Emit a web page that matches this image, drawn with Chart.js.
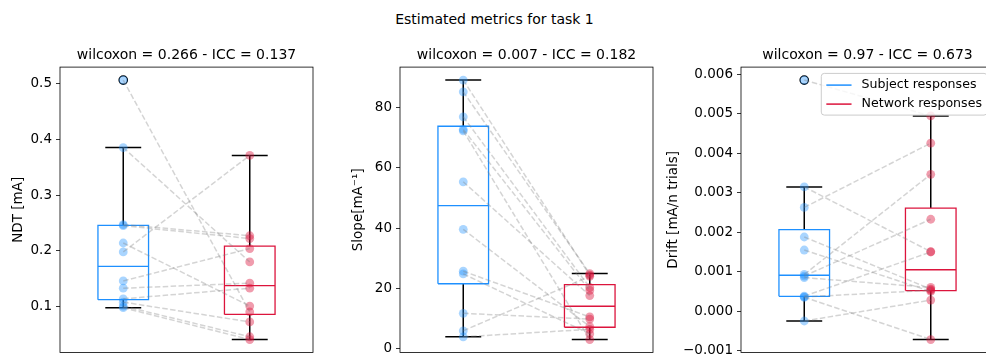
<!DOCTYPE html>
<html>
<head>
<meta charset="utf-8">
<script src="https://cdn.jsdelivr.net/npm/chart.js@4.4.1/dist/chart.umd.min.js"></script>
<style>
  html, body { margin: 0; padding: 0; background: #fff; overflow: hidden; width: 986px; height: 354px; }
  body { position: relative; font-family: "DejaVu Sans", sans-serif; }
  .suptitle { position: absolute; top: 10px; left: 0; width: 989px; text-align: center; font-size: 14px; line-height: 18px; color: #000; }
  .panel { position: absolute; top: 0; }
</style>
</head>
<body>
<div class="suptitle">Estimated metrics for task 1</div>
<div class="panel" style="left:0px"><canvas id="ndt"></canvas></div>
<div class="panel" style="left:340px"><canvas id="slope"></canvas></div>
<div class="panel" style="left:655px"><canvas id="drift"></canvas></div>
<script>
/** DATA */

const groups = ['Subject responses', 'Network responses'];
const positions = [1, 2];
const groupColors = ['#1E90FF', '#DC143C'];
const pointColors = ['rgba(30, 144, 255, 0.38)', 'rgba(220, 20, 60, 0.42)'];

const titles = [
    'wilcoxon = 0.266 - ICC = 0.137',
    'wilcoxon = 0.007 - ICC = 0.182',
    'wilcoxon = 0.97 - ICC = 0.673'
];
const yLabels = ['NDT [mA]', 'Slope[mA\u207B\u00B9]', 'Drift [mA/n trials]'];

// one entry per subject, same order in both arrays (paired)
const ndtSubject = [0.506, 0.385, 0.247, 0.245, 0.214, 0.198, 0.146, 0.133, 0.114, 0.108, 0.101, 0.098];
const ndtNetwork = [0.0905, 0.180, 0.227, 0.222, 0.101, 0.371, 0.204, 0.142, 0.133, 0.0725, 0.046, 0.041];

const slopeSubject = [89.2, 85.3, 77.0, 72.8, 72.3, 55.4, 39.6, 25.7, 24.8, 11.7, 5.9, 3.9];
const slopeNetwork = [24.4, 24.9, 20.3, 19.3, 3.0, 17.6, 7.3, 10.5, 4.9, 9.8, 24.0, 6.4];

const driftSubject = [0.00586, 0.00315, 0.00263, 0.00188, 0.00155, 0.00093, 0.00089, 0.00085, 0.00038, 0.00036, 0.00035, -0.00025];
const driftNetwork = [0.00495, 0.00151, 0.00426, 0.00056, 0.0005, 0.00347, 0.00233, 0.0006, 0.0015, 0.00053, -0.00072, 0.00028];

const ndtTicks = [0.1, 0.2, 0.3, 0.4, 0.5];
const slopeTicks = [0, 20, 40, 60, 80];
const driftTicks = [-0.001, 0, 0.001, 0.002, 0.003, 0.004, 0.005, 0.006];

/** BOX STATS */

const quantile = (sorted, q) => {
    const pos = (sorted.length - 1) * q;
    const lo = Math.floor(pos);
    const hi = Math.ceil(pos);
    return sorted[lo] + (sorted[hi] - sorted[lo]) * (pos - lo);
}

const boxStats = (values) => {
    const s = [...values].sort((a, b) => a - b);
    const q1 = quantile(s, 0.25);
    const med = quantile(s, 0.5);
    const q3 = quantile(s, 0.75);
    const iqr = q3 - q1;
    const inside = s.filter(v => v >= q1 - 1.5 * iqr && v <= q3 + 1.5 * iqr);
    const fliers = s.filter(v => !inside.includes(v));
    return { q1, med, q3, lo: inside[0], hi: inside[inside.length - 1], fliers };
}

/** DATASETS */

const BOX_HALF = 0.2;
const CAP_HALF = 0.142;
const FONT = '"DejaVu Sans", sans-serif';

const segment = (pts, color, width, order) => ({
    type: 'line',
    data: pts,
    borderColor: color,
    borderWidth: width,
    pointRadius: 0,
    fill: false,
    tension: 0,
    order: order
});

const boxDatasets = (values, pos, color) => {
    const b = boxStats(values);
    const l = pos - BOX_HALF, r = pos + BOX_HALF;
    const cl = pos - CAP_HALF, cr = pos + CAP_HALF;
    const sets = [
        segment([{x: l, y: b.q1}, {x: r, y: b.q1}, {x: r, y: b.q3}, {x: l, y: b.q3}, {x: l, y: b.q1}], color, 1.3, 5),
        segment([{x: l, y: b.med}, {x: r, y: b.med}], color, 1.3, 5),
        segment([{x: pos, y: b.q1}, {x: pos, y: b.lo}], '#000', 1.5, 5),
        segment([{x: pos, y: b.q3}, {x: pos, y: b.hi}], '#000', 1.5, 5),
        segment([{x: cl, y: b.lo}, {x: cr, y: b.lo}], '#000', 1.5, 5),
        segment([{x: cl, y: b.hi}, {x: cr, y: b.hi}], '#000', 1.5, 5)
    ];
    if (b.fliers.length) {
        sets.push({
            type: 'scatter',
            data: b.fliers.map(v => ({x: pos, y: v})),
            pointRadius: 4.2,
            pointBackgroundColor: 'rgba(0,0,0,0)',
            pointBorderColor: '#000',
            pointBorderWidth: 1.3,
            order: 4
        });
    }
    return sets;
}

const pointDataset = (values, pos, color) => ({
    type: 'scatter',
    data: values.map(v => ({x: pos, y: v})),
    pointRadius: 4.4,
    pointBackgroundColor: color,
    pointBorderWidth: 0,
    order: 3
});

const pairDatasets = (a, b) => a.map((v, i) => ({
    type: 'line',
    data: [{x: positions[0], y: v}, {x: positions[1], y: b[i]}],
    borderColor: 'rgba(128, 128, 128, 0.34)',
    borderWidth: 1.5,
    borderDash: [5.5, 2.4],
    pointRadius: 0,
    tension: 0,
    order: 1
}));

/** PLUGINS */

const frame = {
    id: 'frame',
    afterDatasetsDraw(chart) {
        const { ctx, chartArea: a } = chart;
        ctx.save();
        ctx.strokeStyle = '#000';
        ctx.lineWidth = 0.8;
        ctx.strokeRect(a.left, a.top, a.right - a.left, a.bottom - a.top);
        ctx.restore();
    }
};

const boxLegend = {
    id: 'boxLegend',
    afterDraw(chart, args, opts) {
        if (!opts.show) return;
        const { ctx, chartArea: a } = chart;
        const fs = 12.6;
        ctx.save();
        ctx.font = `${fs}px ${FONT}`;
        const textW = Math.max(...groups.map(g => ctx.measureText(g).width));
        const pad = 0.4 * fs, handle = 2 * fs, gap = 0.8 * fs;
        const w = pad + handle + gap + textW + pad;
        const h = 41.7;
        const x = a.right - 7 - w;
        const y = a.top + 6.3;
        ctx.beginPath();
        ctx.roundRect(x, y, w, h, 3);
        ctx.fillStyle = 'rgba(255,255,255,0.8)';
        ctx.fill();
        ctx.strokeStyle = '#cccccc';
        ctx.lineWidth = 1;
        ctx.stroke();
        ctx.textBaseline = 'middle';
        ctx.fillStyle = '#000';
        groups.forEach((g, i) => {
            const ry = y + 11.7 + i * 19;
            ctx.beginPath();
            ctx.moveTo(x + pad, ry);
            ctx.lineTo(x + pad + handle, ry);
            ctx.strokeStyle = groupColors[i];
            ctx.lineWidth = 1.5;
            ctx.stroke();
            ctx.fillText(g, x + pad + handle + gap, ry);
        });
        ctx.restore();
    }
};

/** CHARTS */

const makePanel = (id, subject, network, title, yLabel, ticks, decimals, yWidth, legend) => {
    const all = subject.concat(network);
    const lo = Math.min(...all), hi = Math.max(...all);
    const margin = (hi - lo) * 0.05;

    const canvas = document.getElementById(id);
    canvas.width = yWidth + 253 + 2;
    canvas.height = 354;

    const datasets = [
        ...boxDatasets(subject, positions[0], groupColors[0]),
        ...boxDatasets(network, positions[1], groupColors[1]),
        pointDataset(subject, positions[0], pointColors[0]),
        pointDataset(network, positions[1], pointColors[1]),
        ...pairDatasets(subject, network)
    ];

    new Chart(canvas, {
        type: 'scatter',
        data: { datasets },
        options: {
            responsive: false,
            animation: false,
            devicePixelRatio: 1,
            events: [],
            layout: { autoPadding: false, padding: { left: 0, right: 2, top: 0, bottom: 1.5 } },
            plugins: {
                legend: { display: false },
                tooltip: { enabled: false },
                title: {
                    display: true,
                    text: title,
                    fullSize: false,
                    color: '#000',
                    font: { family: FONT, size: 14, weight: 'normal' },
                    padding: { top: 46.7, bottom: 3.6 }
                },
                boxLegend: { show: legend }
            },
            scales: {
                x: { type: 'linear', min: 0.5, max: 2.5, display: false },
                y: {
                    type: 'linear',
                    min: lo - margin,
                    max: hi + margin,
                    border: { display: false },
                    grid: { display: true, drawOnChartArea: false, drawTicks: true, tickLength: 4, color: '#000', lineWidth: 0.8 },
                    ticks: {
                        color: '#000',
                        padding: 4,
                        autoSkip: false,
                        font: { family: FONT, size: 13.5 },
                        callback: (v) => v.toFixed(decimals).replace('-', '\u2212')
                    },
                    title: {
                        display: true,
                        text: yLabel,
                        color: '#000',
                        font: { family: FONT, size: 13.5 },
                        padding: { top: 9.9, bottom: 0 }
                    },
                    afterBuildTicks: (scale) => { scale.ticks = ticks.map(v => ({ value: v })); },
                    afterFit: (scale) => {
                        scale.width = yWidth;
                        scale.paddingTop = 0;
                        scale.paddingBottom = 0;
                    }
                }
            }
        },
        plugins: [frame, boxLegend]
    });
}

makePanel('ndt', ndtSubject, ndtNetwork, titles[0], yLabels[0], ndtTicks, 1, 60, false);
makePanel('slope', slopeSubject, slopeNetwork, titles[1], yLabels[1], slopeTicks, 0, 60, false);
makePanel('drift', driftSubject, driftNetwork, titles[2], yLabels[2], driftTicks, 3, 86, true);
</script>
</body>
</html>
